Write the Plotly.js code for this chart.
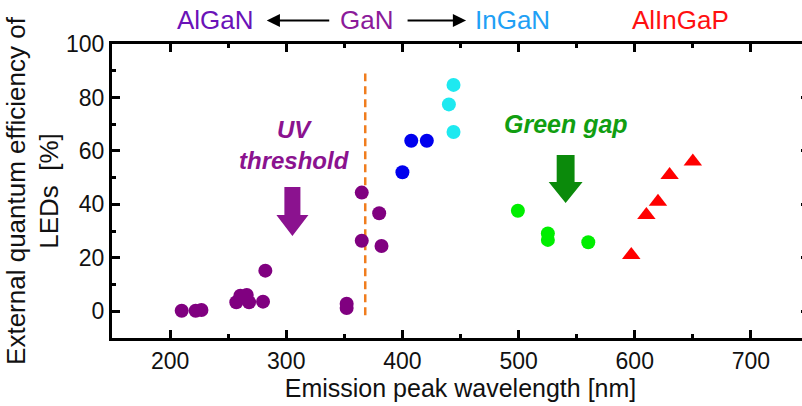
<!DOCTYPE html>
<html>
<head>
<meta charset="utf-8">
<script src="https://cdn.plot.ly/plotly-3.0.1.min.js"></script>
<style>
html,body{margin:0;padding:0;overflow:hidden;background:#fff;}
#chart{width:812px;height:406px;}
</style>
</head>
<body>
<div id="chart"></div>
<script>
// AlGaN / GaN (purple)
const ganX = [210, 222, 227, 257, 260.5, 266, 268, 280, 282, 352, 352, 365, 365, 380, 382];
const ganY = [0.2, 0.2, 0.5, 3.4, 5.8, 6.1, 3.4, 3.6, 15.2, 1.2, 2.8, 44.4, 26.4, 36.7, 24.4];
// InGaN (blue)
const ingaBlueX = [400, 407.6, 421];
const ingaBlueY = [52, 63.8, 63.8];
// InGaN (cyan)
const ingaCyanX = [444, 440, 444];
const ingaCyanY = [84.7, 77.4, 67.1];
// InGaN green
const greenX = [499.4, 525.2, 525.2, 560];
const greenY = [37.6, 29.1, 26.7, 25.8];
// AlInGaP (red triangles)
const redX = [597, 610, 620, 630, 650];
const redY = [21.1, 36, 41, 51, 56];
// UV threshold line
const thresholdX = 368;
const thresholdYRange = [-1.5, 89];

const xTitle = 'Emission peak wavelength [nm]';
const yTitle = 'External quantum efficiency of<br>LEDs\u00a0\u00a0[%]';
const topLabels = ['AlGaN', 'GaN', 'InGaN', 'AlInGaP'];
const topColors = ['#6a12b8', '#8b1a9a', '#1fa0f5', '#ff1010'];

const FONT = 'Liberation Sans, Arial, sans-serif';

function dot(x, y, color, symbol, size) {
  return {x: x, y: y, type: 'scatter', mode: 'markers', hoverinfo: 'skip',
    marker: {color: color, size: size, symbol: symbol, line: {width: 0}}};
}

const traces = [
  {x: [thresholdX, thresholdX], y: thresholdYRange, type: 'scatter', mode: 'lines',
   line: {color: '#f07d1e', width: 2.5, dash: '8px,5px'}, hoverinfo: 'skip'},
  dot(ganX, ganY, '#800080', 'circle', 14),
  dot(ingaBlueX, ingaBlueY, '#0000ee', 'circle', 14),
  dot(ingaCyanX, ingaCyanY, '#1ee9f0', 'circle', 14),
  dot(greenX, greenY, '#00ee00', 'circle', 14),
  dot(redX, redY, '#ff0000', 'triangle-up', 16)
];

function blockArrow(cx, halfShaft, halfHead, top, base, tip) {
  return 'M' + (cx - halfShaft) + ',' + top + ' L' + (cx + halfShaft) + ',' + top +
    ' L' + (cx + halfShaft) + ',' + base + ' L' + (cx + halfHead) + ',' + base +
    ' L' + cx + ',' + tip + ' L' + (cx - halfHead) + ',' + base +
    ' L' + (cx - halfShaft) + ',' + base + ' Z';
}

const shapes = [
  {type: 'path', xref: 'x', yref: 'y', path: blockArrow(305.3, 6.9, 13.8, 46.5, 36, 28.2),
   fillcolor: '#8b128f', line: {width: 0}},
  {type: 'path', xref: 'x', yref: 'y', path: blockArrow(540.5, 7.7, 14.6, 58.5, 48.4, 40.5),
   fillcolor: '#0b8a0b', line: {width: 0}}
];

// paper positions for the header labels
const topPos = [0.148, 0.365, 0.575, 0.815];
const labelY = 1.08;
const annotations = topLabels.map((t, i) => ({
  text: t, xref: 'paper', yref: 'paper', x: topPos[i], y: labelY, showarrow: false,
  xanchor: 'center', yanchor: 'middle', font: {family: FONT, size: 26, color: topColors[i]}
}));
annotations.push(
  {xref: 'paper', yref: 'paper', x: 0.222, y: labelY, ax: 64, ay: 0, text: '', showarrow: true,
   arrowhead: 2, arrowsize: 1.2, arrowwidth: 2.2, arrowcolor: '#000'},
  {xref: 'paper', yref: 'paper', x: 0.508, y: labelY, ax: -60, ay: 0, text: '', showarrow: true,
   arrowhead: 2, arrowsize: 1.2, arrowwidth: 2.2, arrowcolor: '#000'},
  {text: '<b><i>UV<br>threshold</i></b>', xref: 'x', yref: 'y', x: 307, y: 62.2, showarrow: false,
   xanchor: 'center', yanchor: 'middle', font: {family: FONT, size: 24, color: '#8b128f'}},
  {text: '<b><i>Green gap</i></b>', xref: 'x', yref: 'y', x: 540.5, y: 69.9, showarrow: false,
   xanchor: 'center', yanchor: 'middle', font: {family: FONT, size: 25, color: '#119e11'}}
);

const axisCommon = {
  showline: true, linecolor: '#000', linewidth: 3, mirror: 'ticks',
  ticks: 'inside', ticklen: 8, tickwidth: 3, tickcolor: '#000',
  showgrid: false, zeroline: false,
  tickfont: {family: FONT, size: 23, color: '#111'},
  minor: {ticks: 'inside', ticklen: 4, tickwidth: 3, tickcolor: '#000', showgrid: false}
};

const layout = {
  width: 812, height: 406,
  margin: {l: 112, r: 3, t: 44, b: 68},
  paper_bgcolor: '#fff', plot_bgcolor: '#fff',
  showlegend: false,
  font: {family: FONT, color: '#111'},
  xaxis: Object.assign({}, axisCommon, {
    range: [150, 750], tick0: 200, dtick: 100, minor: Object.assign({}, axisCommon.minor, {dtick: 50}),
    title: {text: xTitle, font: {family: FONT, size: 25, color: '#111'}, standoff: 5}
  }),
  yaxis: Object.assign({}, axisCommon, {
    range: [-10, 100], tick0: 0, dtick: 20, minor: Object.assign({}, axisCommon.minor, {dtick: 10}),
    title: {text: yTitle, font: {family: FONT, size: 26, color: '#111'}, standoff: 0}
  }),
  shapes: shapes,
  annotations: annotations
};

Plotly.newPlot('chart', traces, layout, {displayModeBar: false, staticPlot: true});
</script>
</body>
</html>
